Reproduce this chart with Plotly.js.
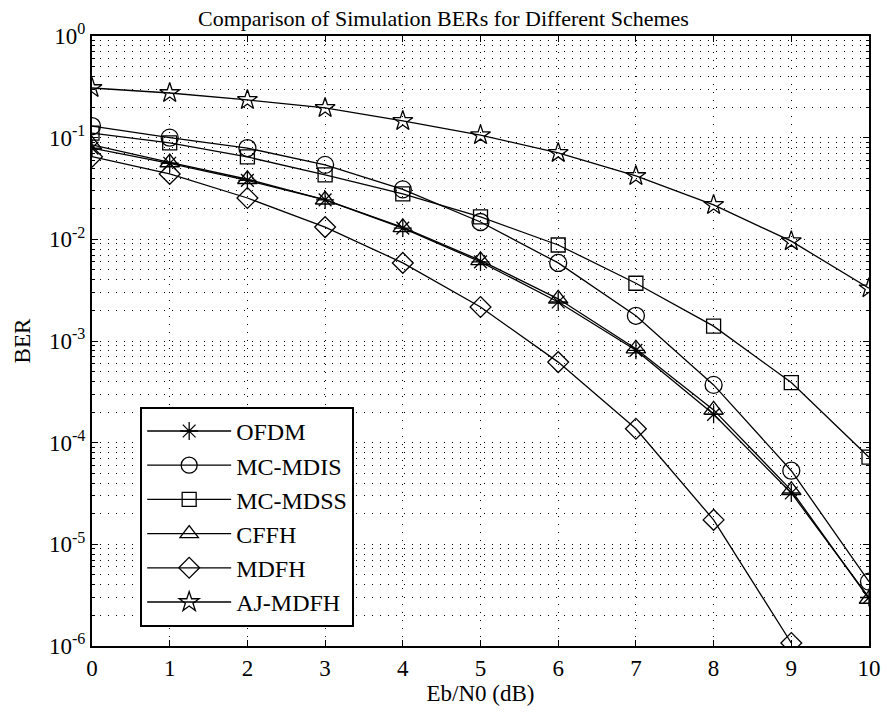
<!DOCTYPE html>
<html><head><meta charset="utf-8">
<script src="https://cdn.plot.ly/plotly-3.0.1.min.js"></script>
<style>html,body{margin:0;padding:0;background:#fff}#chart{width:887px;height:714px}</style>
</head><body><div id="chart"></div>
<script>
const ebn0 = [0,1,2,3,4,5,6,7,8,9,10];
const ofdm   = [0.079,0.056,0.038,0.0244,0.0129,0.0060,0.00242,8.1e-4,1.9e-4,3.2e-5,3.0e-6];
const mcmdis = [0.130,0.100,0.079,0.054,0.031,0.0148,0.00586,0.00177,3.7e-4,5.3e-5,4.3e-6];
const mcmdss = [0.111,0.0887,0.0646,0.043,0.028,0.0166,0.0088,0.0037,0.0014,3.9e-4,7.2e-5];
const cffh   = [0.085,0.057,0.039,0.0245,0.0131,0.0062,0.0026,8.4e-4,2.1e-4,3.4e-5,2.9e-6];
const mdfh   = [0.065,0.044,0.0255,0.0132,0.00586,0.00216,6.2e-4,1.37e-4,1.74e-5,1.07e-6];
const ajmdfh = [0.308,0.275,0.235,0.196,0.146,0.106,0.0708,0.042,0.0218,0.0096,0.0033];
const names = ['OFDM','MC-MDIS','MC-MDSS','CFFH','MDFH','AJ-MDFH'];
const yTickVals = [1,0.1,0.01,0.001,1e-4,1e-5,1e-6];
const yTickText = ['10<sup>0</sup>','10<sup>-1</sup>','10<sup>-2</sup>','10<sup>-3</sup>','10<sup>-4</sup>','10<sup>-5</sup>','10<sup>-6</sup>'];
const series = [ofdm,mcmdis,mcmdss,cffh,mdfh,ajmdfh];
const symbols = ['asterisk-open','circle-open','square-open','triangle-up-open','diamond-open','star-open'];
const sizes = [15,17,14,17,16,15];
const font = "'Liberation Serif'";
const traces = series.map((ys,i)=>({
  x: ebn0.slice(0, ys.length), y: ys, name: names[i], type:'scatter', mode:'lines+markers',
  line:{color:'black', width:1.3},
  marker:{symbol:symbols[i], size:sizes[i], color:'black', line:{color:'black', width:1.3}}
}));
const dotted = '1px,7px';
const layout = {
  width:887, height:714,
  margin:{l:92, r:18, t:36, b:68},
  paper_bgcolor:'white', plot_bgcolor:'white',
  font:{family:font, size:22, color:'black'},
  title:{text:'Comparison of Simulation BERs for Different Schemes', font:{family:font, size:22, color:'black'}, x:0.5, xanchor:'center', y:0.985, yanchor:'top'},
  xaxis:{
    range:[0,10], dtick:1, tick0:0,
    showline:true, linecolor:'black', linewidth:2, mirror:'ticks',
    ticks:'inside', ticklen:6, tickcolor:'black',
    showgrid:true, gridcolor:'black', griddash:dotted, gridwidth:1,
    zeroline:false,
    title:{text:'Eb/N0 (dB)', font:{family:font, size:23}, standoff:4},
    tickfont:{family:font, size:23}
  },
  yaxis:{
    type:'log', range:[-6,0],
    tickmode:'array', tickvals:yTickVals, ticktext:yTickText,
    showline:true, linecolor:'black', linewidth:2, mirror:'ticks',
    ticks:'inside', ticklen:6, tickcolor:'black',
    showgrid:true, gridcolor:'black', griddash:dotted, gridwidth:1,
    minor:{dtick:'D1', showgrid:true, gridcolor:'black', griddash:dotted, gridwidth:1, ticks:'inside', ticklen:3, tickcolor:'black'},
    zeroline:false,
    title:{text:'BER', font:{family:font, size:23}, standoff:12},
    tickfont:{family:font, size:23}
  },
  showlegend:true,
  legend:{x:0.062, y:0.392, xanchor:'left', yanchor:'top', bgcolor:'white', bordercolor:'black', borderwidth:2,
    font:{family:font, size:24, color:'black'}, tracegroupgap:0, itemwidth:84}
};
Plotly.newPlot('chart', traces, layout, {staticPlot:true});
</script></body></html>
